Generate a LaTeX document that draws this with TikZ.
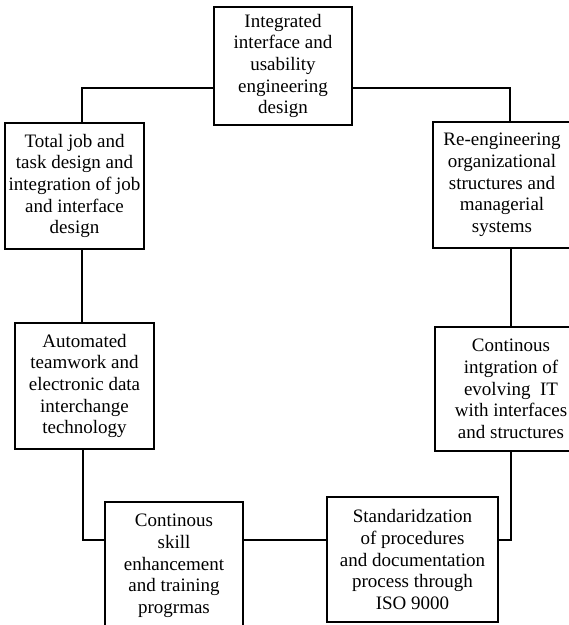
\documentclass[tikz,border=0pt]{standalone}
\usepackage{fontspec}
\setmainfont{Liberation Serif}
\begin{document}
\begin{tikzpicture}[x=1pt,y=-1pt,
  box/.style={draw, line width=2.9pt, fill=white, inner sep=0pt, align=center,
    font=\fontsize{19}{21.7}\selectfont},
  link/.style={line width=2.9pt}]
\useasboundingbox (0,0) rectangle (569,625);
\clip (0,0) rectangle (569,625);
\fill[white] (0,0) rectangle (569,625);
\node[box, minimum width=138pt, minimum height=118pt] (top) at (283,66)
  {Integrated\\interface and\\usability\\engineering\\design};
\node[box, minimum width=139pt, minimum height=126pt] (left) at (74.5,186)
  {Total job and\\task design and\\integration of job\\and interface\\design};
\node[box, minimum width=138pt, minimum height=126pt] (reeng) at (502,185)
  {Re-engineering\\organizational\\structures and\\managerial\\systems};
\node[box, minimum width=139pt, minimum height=126pt] (auto) at (84.5,386)
  {Automated\\teamwork and\\electronic data\\interchange\\technology};
\node[box, minimum width=152pt, minimum height=124pt] (cont) at (511,389)
  {Continous\\intgration of\\evolving\ \ IT\\with interfaces\\and structures};
\node[box, minimum width=138pt, minimum height=128pt] (skill) at (174,566)
  {Continous\\skill\\enhancement\\and training\\progrmas};
\node[box, minimum width=171pt, minimum height=125pt] (std) at (412.5,559.5)
  {Standaridzation\\of procedures\\and documentation\\process through\\ISO 9000};
\draw[link] (top.west |- 0,88) -| (82,0 |- left.north);
\draw[link] (82,0 |- left.south) -- (82,0 |- auto.north);
\draw[link] (83,0 |- auto.south) |- (skill.west |- 0,540);
\draw[link] (skill.east |- 0,540) -- (std.west |- 0,540);
\draw[link] (std.east |- 0,540) -| (511,0 |- cont.south);
\draw[link] (511,0 |- cont.north) -- (511,0 |- reeng.south);
\draw[link] (510,0 |- reeng.north) |- (top.east |- 0,88);
\end{tikzpicture}
\end{document}
